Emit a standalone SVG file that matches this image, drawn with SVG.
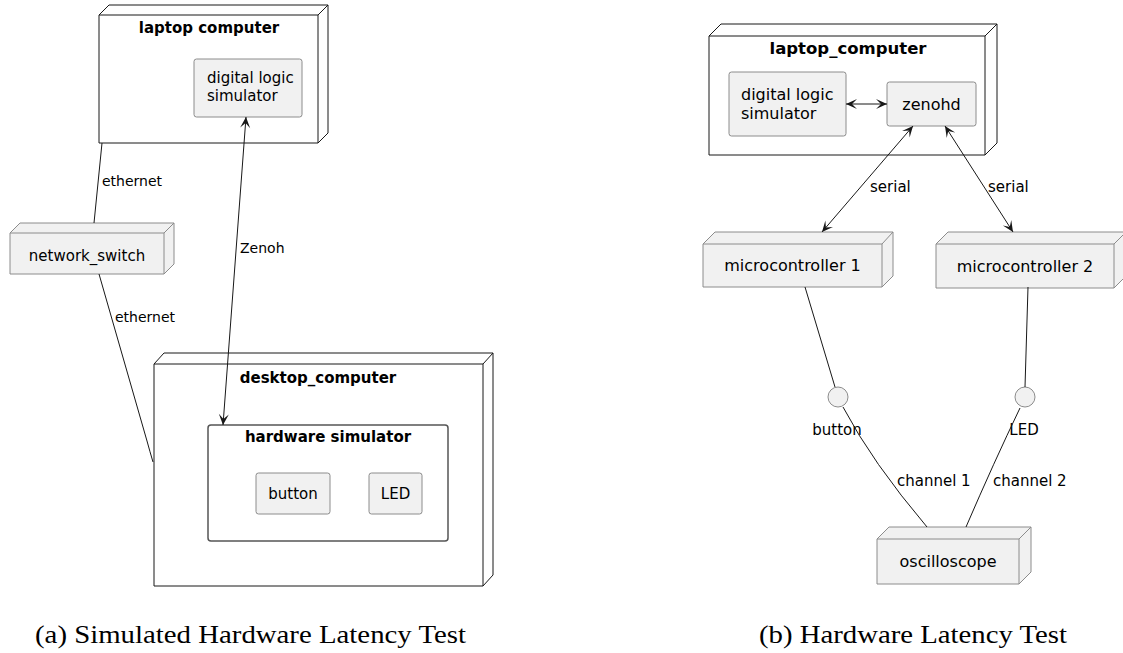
<svg xmlns="http://www.w3.org/2000/svg" width="1123" height="653" viewBox="0 0 1123 653">
  <defs>
    <!-- arrowhead pointing along the path direction (used at the end) -->
    <marker id="head" viewBox="-12 -6 13 12" refX="0" refY="0" markerWidth="13" markerHeight="12" markerUnits="userSpaceOnUse" orient="auto">
      <path d="M0,0 L-11,-5 L-6,0 L-11,5 Z" fill="#181818"/>
    </marker>
    <!-- arrowhead pointing against the path direction (used at the start) -->
    <marker id="tail" viewBox="-1 -6 13 12" refX="0" refY="0" markerWidth="13" markerHeight="12" markerUnits="userSpaceOnUse" orient="auto">
      <path d="M0,0 L11,-5 L6,0 L11,5 Z" fill="#181818"/>
    </marker>
    <style>
      text { font-family: "DejaVu Sans", "Liberation Sans", sans-serif; fill: #000; }
      .title-l { font-size: 15px; font-weight: bold; text-anchor: middle; }
      .title-r { font-size: 16.5px; font-weight: bold; text-anchor: middle; }
      .txt-l { font-size: 15px; }
      .txt-r { font-size: 16px; }
      .lbl-l { font-size: 14px; }
      .lbl-r { font-size: 15px; }
      .mid { text-anchor: middle; }
      .cap { font-family: "Liberation Serif", "Times New Roman", serif; font-size: 25px; }
      .box { fill: #f1f1f1; stroke: #8c8c8c; stroke-width: 1; }
      .host { fill: #ffffff; stroke: #181818; stroke-width: 1; }
      .host-edge { fill: none; stroke: #181818; stroke-width: 1; }
      .dev { fill: #f1f1f1; stroke: #8c8c8c; stroke-width: 1; }
      .dev-edge { fill: none; stroke: #8c8c8c; stroke-width: 1; }
      .frame { fill: #ffffff; stroke: #555555; stroke-width: 1.5; }
      .link { fill: none; stroke: #181818; stroke-width: 1; }
    </style>
  </defs>

  <!-- (a) simulated hardware setup -->
  <g id="laptop-a">
    <path class="host" d="M99,15 L109,5 L328,5 L328,133 L318,143 L99,143 Z"/>
    <path class="host-edge" d="M99,15 L318,15 L328,5 M318,15 L318,143"/>
    <text class="title-l" x="209" y="33">laptop computer</text>
  </g>

  <g id="dls-a">
    <rect class="box" x="194" y="59" width="108" height="58" rx="2.5"/>
    <text class="txt-l" x="207" y="83">digital logic</text>
    <text class="txt-l" x="207" y="101">simulator</text>
  </g>

  <g id="network-switch">
    <path class="dev" d="M10,233 L20,223 L174,223 L174,264 L164,274 L10,274 Z"/>
    <path class="dev-edge" d="M10,233 L164,233 L174,223 M164,233 L164,274"/>
    <text class="txt-l mid" x="87" y="261">network_switch</text>
  </g>

  <g id="desktop-a">
    <path class="host" d="M154,364 L164,353 L493,353 L493,575 L483,586 L154,586 Z"/>
    <path class="host-edge" d="M154,364 L483,364 L493,353 M483,364 L483,586"/>
    <text class="title-l" x="318" y="383">desktop_computer</text>
  </g>

  <g id="hw-sim-a">
    <rect class="frame" x="208" y="425" width="240" height="116" rx="3"/>
    <text class="title-l" x="328" y="442">hardware simulator</text>
  </g>

  <g id="button-a">
    <rect class="box" x="256" y="473" width="74" height="41" rx="2.5"/>
    <text class="txt-l mid" x="293" y="499">button</text>
  </g>

  <g id="led-a">
    <rect class="box" x="369" y="473" width="53" height="41" rx="2.5"/>
    <text class="txt-l mid" x="395.5" y="499">LED</text>
  </g>

  <g id="connectors-a">
    <path class="link" d="M102,143 L94,223"/>
    <path class="link" d="M99,274 L147,441 Q150,452 153,462"/>
    <path class="link" d="M246,117 L223,425" marker-start="url(#tail)" marker-end="url(#head)"/>
    <text class="lbl-l" x="102" y="186">ethernet</text>
    <text class="lbl-l" x="115" y="322">ethernet</text>
    <text class="lbl-l" x="240" y="253">Zenoh</text>
  </g>

  <!-- (b) physical hardware setup -->
  <g id="laptop-b">
    <path class="host" d="M709,36 L721,24 L997,24 L997,143 L985,155 L709,155 Z"/>
    <path class="host-edge" d="M709,36 L985,36 L997,24 M985,36 L985,155"/>
    <text class="title-r" x="848" y="54">laptop_computer</text>
  </g>

  <g id="dls-b">
    <rect class="box" x="729" y="72" width="117" height="64" rx="2.5"/>
    <text class="txt-r" x="741" y="100">digital logic</text>
    <text class="txt-r" x="741" y="119">simulator</text>
  </g>

  <g id="zenohd">
    <rect class="box" x="887" y="82" width="89" height="44" rx="2.5"/>
    <text class="txt-r mid" x="931.5" y="110">zenohd</text>
  </g>

  <g id="mcu-1">
    <path class="dev" d="M703,244 L715,232 L893,232 L893,276 L882,287 L703,287 Z"/>
    <path class="dev-edge" d="M703,244 L882,244 L893,232 M882,244 L882,287"/>
    <text class="txt-r mid" x="792.5" y="271">microcontroller 1</text>
  </g>

  <g id="mcu-2">
    <path class="dev" d="M936,244 L948,232 L1126,232 L1126,276 L1114,288 L936,288 Z"/>
    <path class="dev-edge" d="M936,244 L1114,244 L1126,232 M1114,244 L1114,288"/>
    <text class="txt-r mid" x="1025" y="272">microcontroller 2</text>
  </g>

  <g id="button-b">
    <circle class="box" cx="838" cy="397" r="10"/>
    <text class="lbl-r mid" x="837" y="435">button</text>
  </g>

  <g id="led-b">
    <circle class="box" cx="1025" cy="397" r="10"/>
    <text class="lbl-r mid" x="1024" y="435">LED</text>
  </g>

  <g id="oscilloscope">
    <path class="dev" d="M877,539 L889,527 L1031,527 L1031,572 L1019,584 L877,584 Z"/>
    <path class="dev-edge" d="M877,539 L1019,539 L1031,527 M1019,539 L1019,584"/>
    <text class="txt-r mid" x="948" y="567">oscilloscope</text>
  </g>

  <g id="connectors-b">
    <path class="link" d="M846,104 L887,104" marker-start="url(#tail)" marker-end="url(#head)"/>
    <path class="link" d="M913,126 L822,232" marker-start="url(#tail)" marker-end="url(#head)"/>
    <path class="link" d="M945,126 L1013,232" marker-start="url(#tail)" marker-end="url(#head)"/>
    <path class="link" d="M805,287 L835,387"/>
    <path class="link" d="M1028,287 L1025,387"/>
    <path class="link" d="M843,407 Q872,462 927,527"/>
    <path class="link" d="M1020,408 Q994,462 966,527"/>
    <text class="lbl-r" x="870" y="192">serial</text>
    <text class="lbl-r" x="988" y="192">serial</text>
    <text class="lbl-r" x="897" y="486">channel 1</text>
    <text class="lbl-r" x="993" y="486">channel 2</text>
  </g>

  <!-- captions -->
  <g id="captions">
    <text class="cap" x="35" y="643" textLength="431" lengthAdjust="spacingAndGlyphs">(a) Simulated Hardware Latency Test</text>
    <text class="cap" x="759" y="643" textLength="308" lengthAdjust="spacingAndGlyphs">(b) Hardware Latency Test</text>
  </g>
</svg>
